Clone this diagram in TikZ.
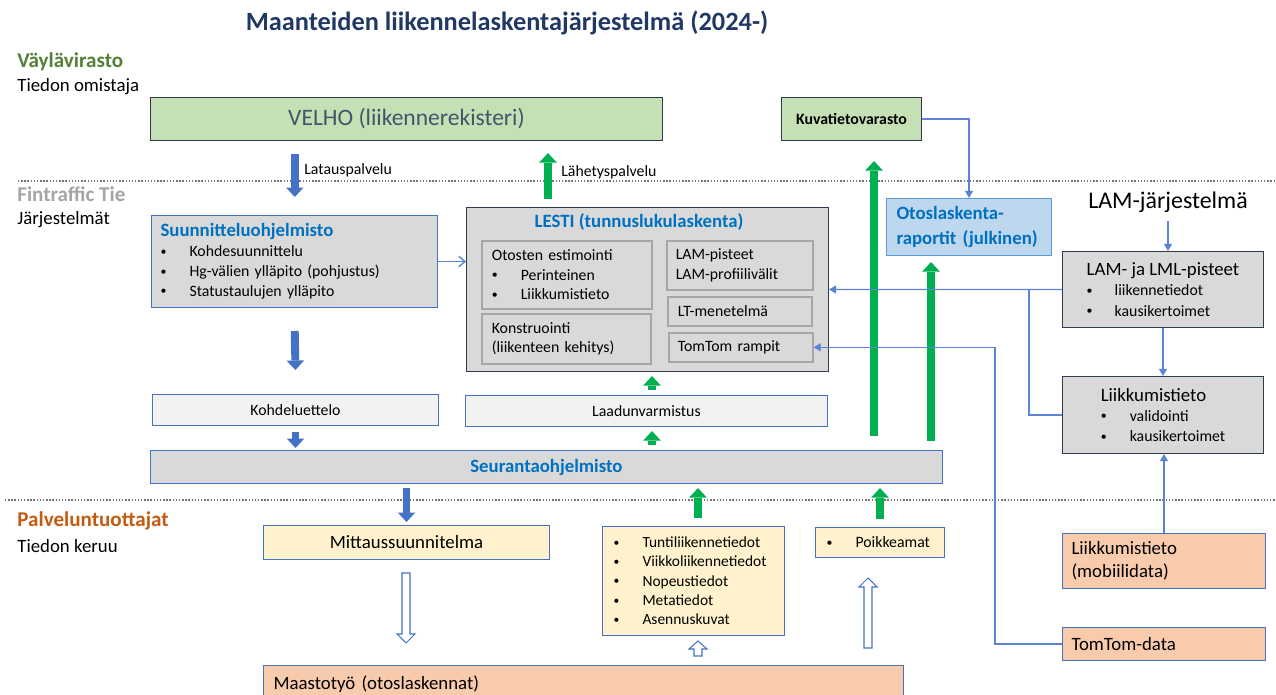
\documentclass[tikz,border=0pt]{standalone}
\usepackage{fontspec}
\setmainfont{Carlito}
\usetikzlibrary{arrows.meta}

\definecolor{titlenavy}{HTML}{203864}
\definecolor{vaylagreen}{HTML}{538135}
\definecolor{ftgray}{HTML}{A5A5A5}
\definecolor{ptorange}{HTML}{C55A11}
\definecolor{bxblue}{HTML}{4472C4}
\definecolor{skyline}{HTML}{5B9BD5}
\definecolor{hdblue}{HTML}{0070C0}
\definecolor{bxdark}{HTML}{2F3A4F}
\definecolor{bxgray}{HTML}{D9D9D9}
\definecolor{bxlight}{HTML}{F2F2F2}
\definecolor{bxgreen}{HTML}{C5E0B4}
\definecolor{bxsky}{HTML}{BDD7EE}
\definecolor{bxyellow}{HTML}{FFF2CC}
\definecolor{bxorange}{HTML}{F8CBAD}
\definecolor{arrgreen}{HTML}{00B050}
\definecolor{lnblue}{HTML}{5B84D6}
\definecolor{ingray}{HTML}{A6A6A6}
\definecolor{slate}{HTML}{44546A}

\newcommand{\blt}[1]{\makebox[#1][l]{\raisebox{0.1em}{\scalebox{0.75}{\textbullet}}}}
% hollow block arrow: x, tail y, tip y, signed head length
\newcommand{\hollowarrow}[4]{%
\draw[hollowarr] ({#1-4},#2) -- ({#1+4},#2) -- ({#1+4},{#3-(#4)}) -- ({#1+9},{#3-(#4)})
  -- (#1,#3) -- ({#1-9},{#3-(#4)}) -- ({#1-4},{#3-(#4)}) -- cycle;}

\begin{document}
\begin{tikzpicture}[x=0.02cm,y=-0.02cm,
  box/.style={draw=bxblue,line width=0.6pt,inner sep=0pt,anchor=north west},
  darkbox/.style={box,draw=bxdark},
  inbox/.style={box,draw=ingray,line width=0.9pt,fill=bxgray,align=left,font=\fontsize{9}{11.1}\selectfont},
  hd/.style={font=\fontsize{12}{14}\selectfont\bfseries,anchor=west,inner sep=0pt},
  sub/.style={font=\fontsize{10.7}{13}\selectfont,anchor=west,inner sep=0pt},
  lbl/.style={font=\fontsize{9}{11}\selectfont,anchor=west,inner sep=0pt},
  bluearr/.style={draw=bxblue,line width=4.5pt,-{Triangle[width=10pt,length=5.4pt,line width=0pt]}},
  greenarr/.style={draw=arrgreen,line width=5pt,-{Triangle[width=10pt,length=5.4pt,line width=0pt]}},
  thinline/.style={draw=lnblue,line width=0.6pt},
  thinarr/.style={thinline,-{Triangle[width=4.5pt,length=4pt]}},
  hollowarr/.style={draw=bxblue,fill=white,line width=0.6pt},
  sepline/.style={draw=black!55,densely dotted,line width=0.8pt}]
\useasboundingbox (0,0) rectangle (1276,695);

% title and side texts
\node[font=\fontsize{15}{18}\selectfont\bfseries,text=titlenavy] (title) at (507,23) {Maanteiden liikennelaskentajärjestelmä (2024-)};
\node[hd,text=vaylagreen] (vayla) at (17,62) {Väylävirasto};
\node[sub] (omistaja) at (17,87) {Tiedon omistaja};
\node[hd,text=ftgray] (fintraffic) at (17,194) {Fintraffic Tie};
\node[sub] (jarj) at (17,220) {Järjestelmät};
\node[hd,text=ptorange] (palvelu) at (17,521) {Palveluntuottajat};
\node[sub] (keruu) at (17,546) {Tiedon keruu};

\draw[sepline] (18,181) -- (1276,181);
\draw[sepline] (5,500) -- (1276,500);

% Vaylavirasto
\node[darkbox,fill=bxgreen,minimum width=10.24cm,minimum height=0.86cm,font=\fontsize{13.4}{16}\selectfont,text=slate] (velho) at (150,97) {VELHO (liikennerekisteri)};
\node[darkbox,fill=bxgreen,minimum width=2.80cm,minimum height=0.86cm,font=\fontsize{9}{11}\selectfont\bfseries] (kuva) at (781,97) {Kuvatietovarasto};

% Fintraffic
\node[box,fill=bxgray,minimum width=5.73cm,minimum height=1.84cm,text width=5.37cm,inner xsep=0.18cm,align=left,font=\fontsize{9}{11.3}\selectfont] (suunn) at (151,215)
  {{\fontsize{10.7}{13}\selectfont\bfseries\color{hdblue}Suunnitteluohjelmisto}\\
   \blt{0.58cm}Kohdesuunnittelu\\ \blt{0.58cm}Hg-välien ylläpito (pohjustus)\\ \blt{0.58cm}Statustaulujen ylläpito};
\node[darkbox,fill=bxgray,minimum width=7.24cm,minimum height=3.28cm] (lesti) at (466,207) {};
\node[font=\fontsize{10.7}{13}\selectfont\bfseries,text=hdblue] (lestit) at (639,222) {LESTI (tunnuslukulaskenta)};
\node[inbox,minimum width=3.40cm,minimum height=1.36cm,text width=3.0cm,inner xsep=0.2cm] (otosten) at (481,240)
  {Otosten estimointi\\ \blt{0.58cm}Perinteinen\\ \blt{0.58cm}Liikkumistieto};
\node[inbox,minimum width=3.38cm,minimum height=1.00cm,text width=2.98cm,inner xsep=0.2cm] (konstr) at (481,313)
  {Konstruointi\\ (liikenteen kehitys)};
\node[inbox,minimum width=2.92cm,minimum height=0.98cm,text width=2.56cm,inner xsep=0.18cm] (lampist) at (666,240)
  {LAM-pisteet\\ LAM-profiilivälit};
\node[inbox,minimum width=2.88cm,minimum height=0.58cm,text width=2.48cm,inner xsep=0.2cm] (ltmen) at (667,296) {LT-menetelmä};
\node[inbox,minimum width=2.88cm,minimum height=0.58cm,text width=2.52cm,inner xsep=0.18cm] (rampit) at (668,332) {TomTom rampit};

\node[box,fill=bxlight,minimum width=5.72cm,minimum height=0.62cm,font=\fontsize{9}{11}\selectfont] (kohde) at (152,394) {Kohdeluettelo};
\node[box,fill=bxlight,minimum width=7.24cm,minimum height=0.62cm,font=\fontsize{9}{11}\selectfont] (laadun) at (465,395) {Laadunvarmistus};
\node[box,fill=bxgray,minimum width=15.84cm,minimum height=0.66cm,font=\fontsize{10.7}{13}\selectfont\bfseries,text=hdblue] (seuranta) at (150,450) {Seurantaohjelmisto};

\node[box,draw=skyline,fill=bxsky,minimum width=3.30cm,minimum height=1.14cm,text width=2.90cm,inner xsep=0.2cm,align=left,font=\fontsize{10.7}{14}\selectfont\bfseries,text=hdblue] (otosrap) at (886,198)
  {Otoslaskenta-\\ raportit (julkinen)};

% LAM
\node[font=\fontsize{13.6}{16}\selectfont] (lamsys) at (1168,202) {LAM-järjestelmä};
\node[darkbox,fill=bxgray,minimum width=4.02cm,minimum height=1.52cm,align=left,font=\fontsize{9}{11.6}\selectfont] (lamml) at (1062,251)
  {{\fontsize{10.7}{13}\selectfont LAM- ja LML-pisteet}\\ \blt{0.56cm}liikennetiedot\\ \blt{0.56cm}kausikertoimet};
\node[darkbox,fill=bxgray,minimum width=4.02cm,minimum height=1.54cm,align=left,font=\fontsize{9}{11.6}\selectfont] (liikk) at (1062,376)
  {{\fontsize{10.7}{13}\selectfont Liikkumistieto}\\ \blt{0.58cm}validointi\\ \blt{0.58cm}kausikertoimet};
\node[box,fill=bxorange,minimum width=4.06cm,minimum height=1.10cm,text width=3.70cm,inner xsep=0.18cm,align=left,font=\fontsize{10.7}{13.3}\selectfont] (mobiili) at (1062,533)
  {Liikkumistieto\\ (mobiilidata)};
\node[box,fill=bxorange,minimum width=4.06cm,minimum height=0.66cm,text width=3.70cm,inner xsep=0.18cm,align=left,font=\fontsize{10.7}{13}\selectfont] (tomtom) at (1062,627) {TomTom-data};

% Palveluntuottajat
\node[box,fill=bxyellow,minimum width=5.72cm,minimum height=0.68cm,font=\fontsize{10.7}{13}\selectfont] (mittaus) at (263,525) {Mittaussuunnitelma};
\node[box,fill=bxyellow,minimum width=3.64cm,minimum height=2.18cm,text width=3.2cm,inner xsep=0.22cm,align=left,font=\fontsize{8.8}{11}\selectfont] (tunti) at (602,526)
  {\blt{0.58cm}Tuntiliikennetiedot\\ \blt{0.58cm}Viikkoliikennetiedot\\ \blt{0.58cm}Nopeustiedot\\ \blt{0.58cm}Metatiedot\\ \blt{0.58cm}Asennuskuvat};
\node[box,fill=bxyellow,minimum width=2.58cm,minimum height=0.60cm,text width=2.14cm,inner xsep=0.22cm,align=left,font=\fontsize{9}{11}\selectfont] (poikk) at (815,527)
  {\blt{0.58cm}Poikkeamat};
\node[box,fill=bxorange,minimum width=12.80cm,minimum height=0.74cm,text width=12.4cm,inner xsep=0.2cm,align=left,font=\fontsize{10.7}{13}\selectfont] (maasto) at (263,665)
  {Maastotyö (otoslaskennat)};

% columns for the block arrows
\coordinate (lahx) at (548,0);
\coordinate (qx) at (652,0);
\coordinate (tx) at (698,0);
\coordinate (kx) at (874,0);
\coordinate (ox) at (931,0);
\coordinate (jx) at (1029,0);
\coordinate (ttx) at (995,0);

\draw[bluearr] ([yshift=-0.26cm]velho.south -| suunn.north) -- ([yshift=0.36cm]suunn.north);
\node[lbl] (lataus) at (304,170) {Latauspalvelu};
\draw[greenarr] ([yshift=0.16cm]lahx |- lesti.north) -- ([yshift=-0.24cm]lahx |- velho.south);
\node[lbl] (lahetys) at (561,172) {Lähetyspalvelu};

\draw[thinline,line width=0.8pt,-{Straight Barb[width=6pt,length=3.5pt]}] (suunn.east) -- (suunn.east -| lesti.west);
\draw[bluearr] ([yshift=-0.46cm]suunn.south) -- ([yshift=0.48cm]kohde.north);
\draw[bluearr] ([yshift=-0.12cm]kohde.south) -- ([yshift=0.04cm]kohde.south |- seuranta.north);
\draw[greenarr] ([yshift=0.10cm]qx |- laadun.north) -- ([yshift=-0.08cm]qx |- lesti.south);
\draw[greenarr] ([yshift=0.10cm]qx |- seuranta.north) -- ([yshift=-0.08cm]qx |- laadun.south);
\draw[bluearr] ([yshift=-0.08cm]mittaus.north |- seuranta.south) -- ([yshift=0.06cm]mittaus.north);
\draw[greenarr] ([yshift=0.16cm]tx |- tunti.north) -- ([yshift=-0.08cm]tx |- seuranta.south);
\draw[greenarr] ([yshift=0.16cm]poikk.north) -- ([yshift=-0.08cm]poikk.north |- seuranta.south);
\draw[greenarr] ([yshift=0.28cm]kx |- seuranta.north) -- ([yshift=-0.40cm]kx |- kuva.south);
\draw[greenarr] ([yshift=0.18cm]ox |- seuranta.north) -- ([yshift=-0.12cm]ox |- otosrap.south);

\draw[thinarr] (kuva.east) -| (otosrap.north);
\draw[thinarr] ([yshift=-0.38cm]lamsys.center) -- (lamsys.center |- lamml.north);
\draw[thinarr] (lamml.south) -- (liikk.north);
\draw[thinarr] (lamml.west) -- (lesti.east);
\draw[thinline] (liikk.west) -| (jx |- lamml.west);
\draw[thinarr] (mobiili.north) -- (mobiili.north |- liikk.south);
\draw[thinarr] (tomtom.west) -- (ttx |- tomtom.west) -- (ttx |- rampit.east) -- (rampit.east);

\hollowarrow{406}{573}{643}{9}
\hollowarrow{698}{656}{641}{-8}
\hollowarrow{868}{648}{578}{-9}
\end{tikzpicture}
\end{document}
